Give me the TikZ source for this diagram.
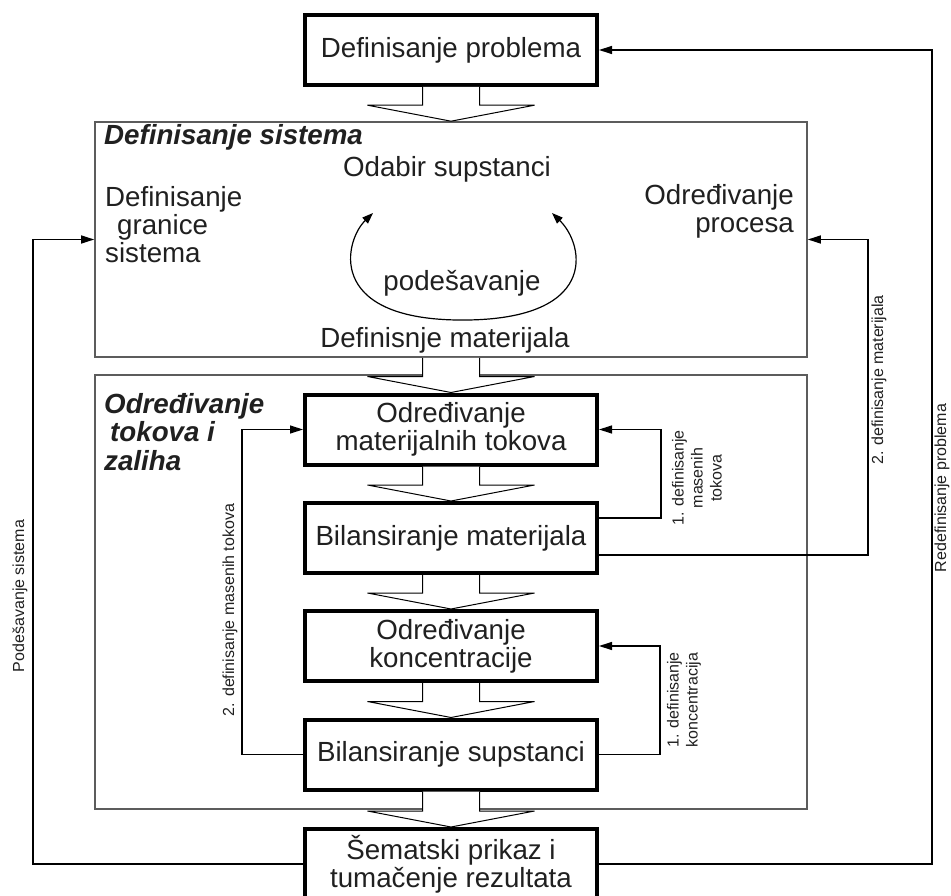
\documentclass[tikz,border=0pt]{standalone}
\usepackage{fontspec}
\setmainfont{Liberation Sans}
\usetikzlibrary{arrows.meta,calc}
\definecolor{ink}{HTML}{202020}
\definecolor{framegray}{HTML}{5C5C5C}
\newcommand{\maintext}{\fontsize{27.7}{28}\selectfont}
\newcommand{\titletext}{\fontsize{27.7}{28.5}\selectfont\bfseries\itshape}
\newcommand{\smalltext}{\fontsize{16}{19}\selectfont}
% hollow block arrow from the bottom of #1 to the top of #2
\newcommand{\blockarrow}[2]{%
  \path[blockarr] ($(#1.south)+(-28.5,0)$) -- ($(#2.north)+(-28.5,-16)$)
    -- ($(#2.north)+(-83.5,-16)$) -- (#2.north) -- ($(#2.north)+(83.5,-16)$)
    -- ($(#2.north)+(28.5,-16)$) -- ($(#1.south)+(28.5,0)$);}
\begin{document}
\begin{tikzpicture}[x=1pt,y=-1pt,
  procbox/.style={draw=black,line width=4pt,fill=white,minimum width=292pt,
    minimum height=70pt,inner sep=0pt,align=center,text=ink,font=\maintext},
  frame/.style={draw=framegray,line width=1.6pt,minimum width=712pt,inner sep=0pt},
  blockarr/.style={fill=white,draw=black,line width=1pt,line join=miter},
  conn/.style={draw=black,line width=1.3pt,-{Triangle[length=13pt,width=8pt]}},
  loopconn/.style={draw=black,line width=1.2pt,
    {Triangle[length=11pt,width=8pt]}-{Triangle[length=11pt,width=8pt]}},
  txt/.style={text=ink,font=\maintext,inner sep=0pt},
  ttl/.style={text=ink,font=\titletext,inner sep=0pt},
  lbl/.style={text=ink,font=\smalltext,inner sep=0pt,rotate=90,align=center}]
\useasboundingbox (0,0) rectangle (951,896);

% the two system frames
\node[frame,minimum height=235pt] (sys) at (451,239.5) {};
\node[frame,minimum height=434pt] (flows) at (451,592) {};

% process boxes
\node[procbox] (prob) at (451,50) {Definisanje problema};
\node[procbox] (tokovi) at (451,429.5) {Određivanje\\materijalnih tokova};
\node[procbox] (bilmat) at (451,538) {Bilansiranje materijala};
\node[procbox] (konc) at (451,646) {Određivanje\\koncentracije};
\node[procbox] (bilsup) at (451,754.5) {Bilansiranje supstanci};
\node[procbox] (sem) at (451,864) {Šematski prikaz i\\tumačenje rezultata};

% main flow
\blockarrow{prob}{sys}
\blockarrow{sys}{tokovi}
\blockarrow{tokovi}{bilmat}
\blockarrow{bilmat}{konc}
\blockarrow{konc}{bilsup}
\blockarrow{bilsup}{sem}

% texts of the system definition frame
\node[ttl,anchor=west] (systitle) at (104,137) {Definisanje sistema};
\node[txt] (odabir) at (447,169) {Odabir supstanci};
\node[txt,anchor=west,align=left] (granica) at (105,225)
  {Definisanje\\\hspace*{12pt}granice\\sistema};
\node[txt,anchor=east,align=right] (procesi) at (794,211) {Određivanje\\procesa};
\node[txt] (podes) at (462,283) {podešavanje};
\node[txt] (defmat) at (445,340) {Definisnje materijala};
\node[ttl,anchor=west,align=left] (flowtitle) at (104,432)
  {Određivanje\\\hspace*{6pt}tokova i\\zaliha};

% adjustment loop
\coordinate (la) at (373,213);
\coordinate (lb) at (552,213);
\draw[loopconn] (la) .. controls (345,240) and (325,318) .. (457,320)
  .. controls (600,322) and (585,245) .. (lb);

% feedback connectors
\coordinate (xl) at (33,0);
\coordinate (xr) at (932,0);
\coordinate (xm) at (868,0);
\coordinate (xt) at (661,0);
\coordinate (xk) at (660,0);
\coordinate (xs) at (242,0);
\coordinate (bm1) at ($(bilmat.east)+(0,-20)$);
\coordinate (bm2) at ($(bilmat.east)+(0,17)$);

\draw[conn] (sem.west) -- (sem.west -| xl) |- (sys.west);
\draw[conn] (sem.east) -- (sem.east -| xr) |- (prob.east);
\draw[conn] (bm2) -- (bm2 -| xm) |- (sys.east);
\draw[conn] (bm1) -- (bm1 -| xt) |- (tokovi.east);
\draw[conn] (bilsup.east) -- (bilsup.east -| xk) |- (konc.east);
\draw[conn] (bilsup.west) -- (bilsup.west -| xs) |- (tokovi.west);

% connector labels
\node[lbl] (l1) at (20,596) {Podešavanje sistema};
\node[lbl] (l2) at (942,488) {Redefinisanje problema};
\node[lbl] (l3) at (879,380) {2. definisanje materijala};
\node[lbl] (l4) at (697,478) {1. definisanje\\masenih\\tokova};
\node[lbl] (l5) at (684,700) {1. definisanje\\koncentracija};
\node[lbl] (l6) at (230,610) {2. definisanje masenih tokova};
\end{tikzpicture}
\end{document}
